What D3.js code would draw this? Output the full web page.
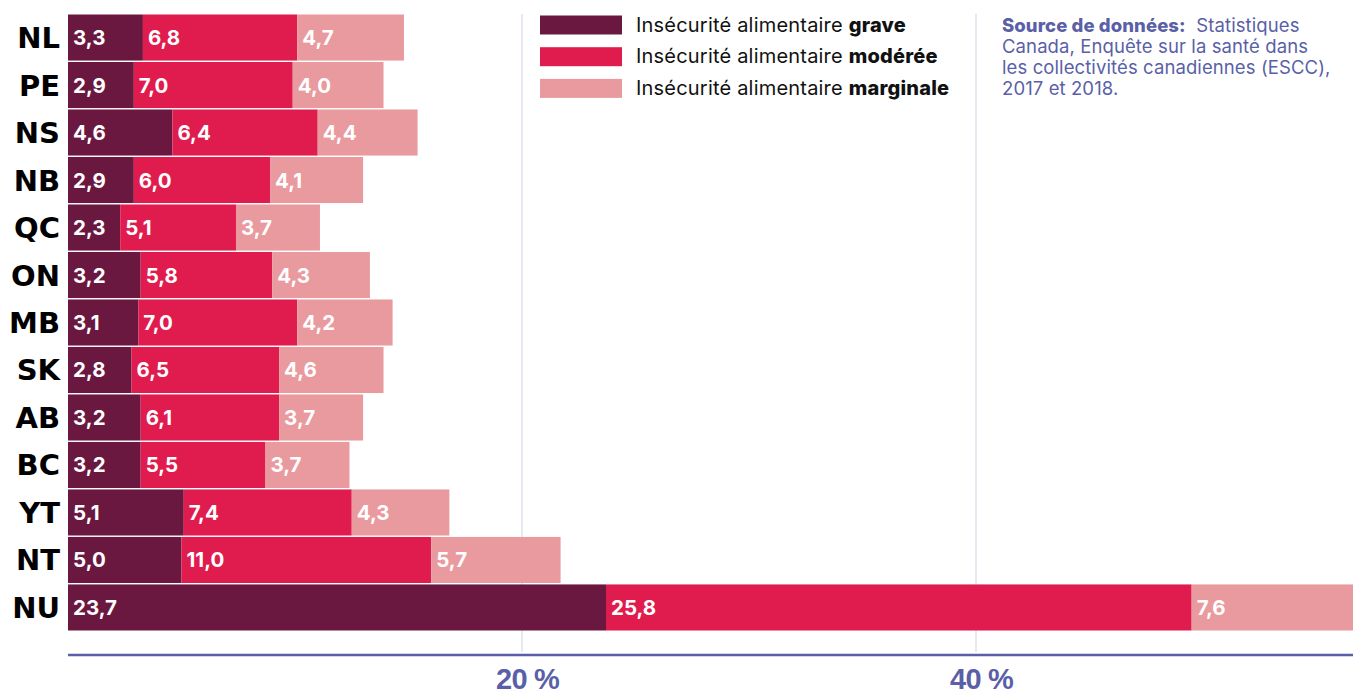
<!DOCTYPE html>
<html lang="fr">
<head>
<meta charset="utf-8">
<script src="https://cdn.jsdelivr.net/npm/d3@7"></script>
<style>
  html, body { margin: 0; padding: 0; background: #fff; }
  svg { display: block; }
</style>
</head>
<body>
<svg id="chart" width="1353" height="694"></svg>
<script>
// Provinces and territories, top to bottom
const provinces = ["NL", "PE", "NS", "NB", "QC", "ON", "MB", "SK", "AB", "BC", "YT", "NT", "NU"];
// Food insecurity prevalence (%) by severity
const grave     = [3.3, 2.9, 4.6, 2.9, 2.3, 3.2, 3.1, 2.8, 3.2, 3.2, 5.1, 5.0, 23.7];
const moderee   = [6.8, 7.0, 6.4, 6.0, 5.1, 5.8, 7.0, 6.5, 6.1, 5.5, 7.4, 11.0, 25.8];
const marginale = [4.7, 4.0, 4.4, 4.1, 3.7, 4.3, 4.2, 4.6, 3.7, 3.7, 4.3, 5.7, 7.6];
const seriesKeys = ["grave", "moderee", "marginale"];
const seriesNames = ["grave", "modérée", "marginale"];
const seriesColors = ["#6b1840", "#e01c4e", "#e99a9f"];
const tickValues = [20, 40];

const W = 1353, H = 694;
const blue = "#5a5fa7";
const svg = d3.select("#chart");

const rows = provinces.map((p, i) => ({
  province: p, grave: grave[i], moderee: moderee[i], marginale: marginale[i]
}));
const stacked = d3.stack().keys(seriesKeys)(rows);

const x = d3.scaleLinear().domain([0, 40]).range([68, 976]);
const y = d3.scaleBand().domain(provinces).range([14.5, 630.5]).paddingInner(0.03);

svg.append("defs").append("clipPath").attr("id", "plotclip")
  .append("rect").attr("x", 0).attr("y", 0).attr("width", W).attr("height", H);

// vertical gridlines
svg.append("g").selectAll("line").data(tickValues).join("line")
  .attr("x1", d => x(d)).attr("x2", d => x(d))
  .attr("y1", 14).attr("y2", 652)
  .attr("stroke", "#d9dcef").attr("stroke-width", 1.3);

// stacked bars
const layers = svg.append("g").attr("clip-path", "url(#plotclip)")
  .selectAll("g").data(stacked).join("g")
  .attr("fill", (d, i) => seriesColors[i]);

layers.selectAll("rect").data(d => d).join("rect")
  .attr("x", d => x(d[0]))
  .attr("y", d => y(d.data.province))
  .attr("width", d => x(d[1]) - x(d[0]))
  .attr("height", y.bandwidth());

// value labels inside each segment
layers.selectAll("text").data(d => d.map(v => ({ v, key: d.key }))).join("text")
  .attr("x", d => x(d.v[0]) + 5)
  .attr("y", d => y(d.v.data.province) + y.bandwidth() / 2 + 7.5)
  .attr("fill", "#fff")
  .attr("font-family", "Inter, 'Liberation Sans', sans-serif")
  .attr("font-weight", 700)
  .attr("font-size", 20.5)
  .attr("letter-spacing", 0)
  .text(d => d3.format(".1f")(d.v.data[d.key]).replace(".", ","));

// province labels
svg.append("g").selectAll("text").data(provinces).join("text")
  .attr("x", 60)
  .attr("y", d => y(d) + y.bandwidth() / 2 + 10.5)
  .attr("text-anchor", "end")
  .attr("font-family", "'DejaVu Sans', 'Liberation Sans', sans-serif")
  .attr("font-weight", 700)
  .attr("font-size", 29)
  .attr("letter-spacing", 0)
  .attr("fill", "#000")
  .text(d => d);

// x axis
const axis = svg.append("g").attr("transform", "translate(0,655)")
  .call(d3.axisBottom(x).tickValues(tickValues).tickSize(0).tickPadding(0)
    .tickFormat(d => d + " %"));
axis.select(".domain").remove();
axis.append("line").attr("x1", 68).attr("x2", W).attr("y1", 0).attr("y2", 0)
  .attr("stroke", blue).attr("stroke-width", 2.5);
axis.selectAll(".tick text")
  .attr("y", 34)
  .attr("dy", 0)
  .attr("dx", 5)
  .attr("fill", blue)
  .attr("font-family", "'Liberation Sans', Arial, sans-serif")
  .attr("font-weight", 700)
  .attr("font-size", 29)
  .attr("letter-spacing", -0.8);

// legend
const legend = svg.append("g").selectAll("g").data(seriesNames).join("g")
  .attr("transform", (d, i) => `translate(540,${15.5 + i * 31.7})`);
legend.append("rect").attr("width", 82).attr("height", 19)
  .attr("fill", (d, i) => seriesColors[i]);
const lt = legend.append("text").attr("x", 96).attr("y", 16)
  .attr("font-family", "Inter, 'Liberation Sans', sans-serif")
  .attr("font-size", 20).attr("fill", "#111").attr("letter-spacing", 0.2);
lt.append("tspan").text("Insécurité alimentaire ");
lt.append("tspan").attr("font-weight", 800).text(d => d);

// source note
const src = svg.append("text").attr("x", 1002).attr("y", 32)
  .attr("font-family", "Inter, 'Liberation Sans', sans-serif")
  .attr("font-size", 18.5).attr("fill", blue).attr("letter-spacing", 0.1);
const srcLines = [
  ["Source de données:", "  Statistiques"],
  ["", "Canada, Enquête sur la santé dans"],
  ["", "les collectivités canadiennes (ESCC),"],
  ["", "2017 et 2018."]
];
srcLines.forEach((l, i) => {
  if (l[0]) {
    src.append("tspan").attr("x", 1002).attr("dy", 0).attr("font-weight", 800).text(l[0]);
    src.append("tspan").style("white-space", "pre").text(l[1]);
  } else {
    src.append("tspan").attr("x", 1002).attr("dy", 21).text(l[1]);
  }
});
</script>
</body>
</html>
